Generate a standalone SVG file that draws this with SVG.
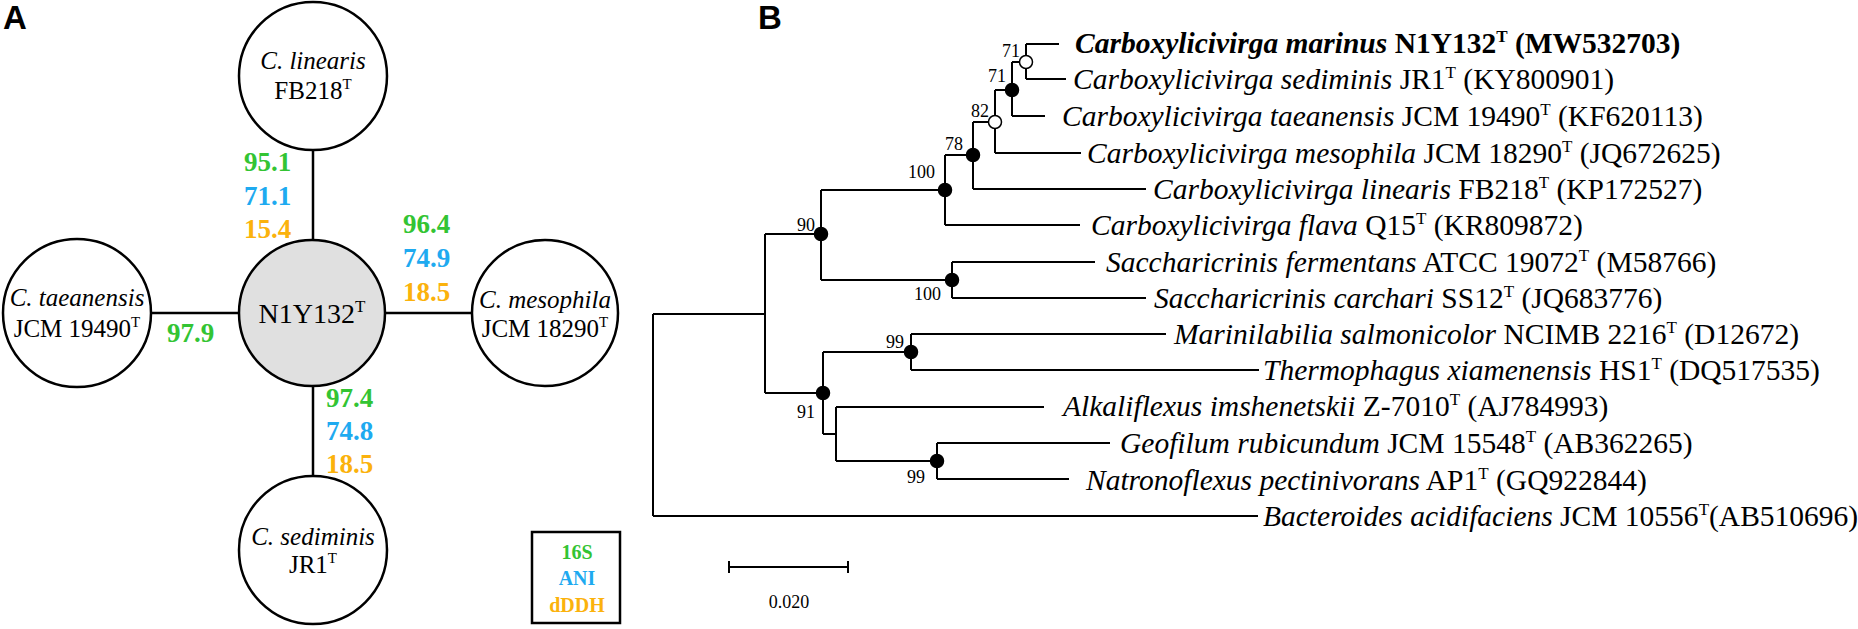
<svg xmlns="http://www.w3.org/2000/svg" width="1858" height="629" viewBox="0 0 1858 629">
<style>
.bg{fill:#fff}
.circ{fill:#fff;stroke:#000;stroke-width:2.5}
.ctr{fill:#e0e0e0;stroke:#000;stroke-width:2.5}
.edge{stroke:#000;stroke-width:2.5;fill:none}
.tl{stroke:#000;stroke-width:2;fill:none}
.panel{font-family:"Liberation Sans",Arial,sans-serif;font-weight:bold;font-size:33px;fill:#000}
.nt{font-family:"Liberation Serif","Times New Roman",serif;font-size:25px;fill:#000;text-anchor:middle}
.ct{font-family:"Liberation Serif","Times New Roman",serif;font-size:28px;fill:#000;text-anchor:middle}
.it{font-style:italic}
.val{font-family:"Liberation Serif","Times New Roman",serif;font-size:27px;font-weight:bold}
.g{fill:#33c433}
.b{fill:#1eaaf0}
.o{fill:#fbb20c}
.lg{font-family:"Liberation Serif","Times New Roman",serif;font-size:20px;font-weight:bold;text-anchor:middle}
.leaf{font-family:"Liberation Serif","Times New Roman",serif;font-size:29.5px;fill:#000}
.bs{font-family:"Liberation Serif","Times New Roman",serif;font-size:18px;fill:#000;text-anchor:end}
.sc{font-family:"Liberation Serif","Times New Roman",serif;font-size:18px;fill:#000;text-anchor:middle}
.fn{fill:#000;stroke:#000;stroke-width:1.5}
.on{fill:#fff;stroke:#000;stroke-width:1.5}
</style>
<rect class="bg" x="0" y="0" width="1858" height="629"/>

<text class="panel" x="3" y="29">A</text>
<text class="panel" x="758" y="29">B</text>

<g id="connectors-A">
<line class="edge" x1="313" y1="150" x2="313" y2="240"/>
<line class="edge" x1="313" y1="386" x2="313" y2="477"/>
<line class="edge" x1="151" y1="313" x2="239" y2="313"/>
<line class="edge" x1="385" y1="313" x2="471" y2="313"/>
</g>

<g id="node-linearis">
<circle class="circ" cx="313" cy="76" r="74"/>
<text class="nt it" x="313" y="69">C. linearis</text>
<text class="nt" x="313" y="99">FB218<tspan font-size="15" dy="-10">T</tspan></text>
</g>
<g id="node-center">
<circle class="ctr" cx="312" cy="313" r="73"/>
<text class="ct" x="312" y="323">N1Y132<tspan font-size="17" dy="-11">T</tspan></text>
</g>
<g id="node-taeanensis">
<circle class="circ" cx="77" cy="313" r="74"/>
<text class="nt it" x="77" y="306">C. taeanensis</text>
<text class="nt" x="77" y="337">JCM 19490<tspan font-size="15" dy="-10">T</tspan></text>
</g>
<g id="node-mesophila">
<circle class="circ" cx="545" cy="313" r="73"/>
<text class="nt it" x="545" y="308">C. mesophila</text>
<text class="nt" x="545" y="337">JCM 18290<tspan font-size="15" dy="-10">T</tspan></text>
</g>
<g id="node-sediminis">
<circle class="circ" cx="313" cy="550" r="74"/>
<text class="nt it" x="313" y="545">C. sediminis</text>
<text class="nt" x="313" y="573">JR1<tspan font-size="15" dy="-10">T</tspan></text>
</g>

<g id="values">
<text class="val g" x="244" y="171">95.1</text>
<text class="val b" x="244" y="205">71.1</text>
<text class="val o" x="244" y="238">15.4</text>
<text class="val g" x="403" y="233">96.4</text>
<text class="val b" x="403" y="267">74.9</text>
<text class="val o" x="403" y="301">18.5</text>
<text class="val g" x="167" y="342">97.9</text>
<text class="val g" x="326" y="407">97.4</text>
<text class="val b" x="326" y="440">74.8</text>
<text class="val o" x="326" y="473">18.5</text>
</g>

<g id="legend">
<rect x="532" y="532" width="88" height="91" fill="#fff" stroke="#000" stroke-width="2.5"/>
<text class="lg g" x="577" y="559">16S</text>
<text class="lg b" x="577" y="585">ANI</text>
<text class="lg o" x="577" y="612">dDDH</text>
</g>

<g id="tree-branches">
<path class="tl" d="M653,314 V516 M653,314 H765 M653,516 H1258
M765,234 V393 M765,234 H821 M765,393 H823
M821,190 V280 M821,190 H945 M821,280 H952
M945,155 V225 M945,155 H973 M945,225 H1080
M973,122 V189 M973,122 H995 M973,189 H1146
M995,90 V153 M995,90 H1012 M995,153 H1081
M1012,62 V116 M1012,62 H1026 M1012,116 H1045
M1026,44 V79 M1026,44 H1059 M1026,79 H1066
M952,262 V298 M952,262 H1095 M952,298 H1146
M823,352 V434 M823,352 H911 M823,434 H836
M911,334 V370 M911,334 H1166 M911,370 H1259
M836,407 V461 M836,407 H1044 M836,461 H937
M937,443 V479 M937,443 H1110 M937,479 H1069"/>
</g>
<g id="tree-nodes">
<circle class="fn" cx="821" cy="234" r="6.5"/>
<circle class="fn" cx="945" cy="190" r="6.5"/>
<circle class="fn" cx="973" cy="155" r="6.5"/>
<circle class="on" cx="995" cy="122" r="6.5"/>
<circle class="fn" cx="1012" cy="90" r="6.5"/>
<circle class="on" cx="1026" cy="62" r="6.5"/>
<circle class="fn" cx="952" cy="280" r="6.5"/>
<circle class="fn" cx="823" cy="393" r="6.5"/>
<circle class="fn" cx="911" cy="352" r="6.5"/>
<circle class="fn" cx="937" cy="461" r="6.5"/>
</g>
<g id="bootstrap">
<text class="bs" x="1020" y="57">71</text>
<text class="bs" x="1006" y="82">71</text>
<text class="bs" x="989" y="117">82</text>
<text class="bs" x="963" y="150">78</text>
<text class="bs" x="935" y="178">100</text>
<text class="bs" x="815" y="231">90</text>
<text class="bs" x="941" y="300">100</text>
<text class="bs" x="904" y="348">99</text>
<text class="bs" x="815" y="418">91</text>
<text class="bs" x="925" y="483">99</text>
</g>
<g id="leaves">
<text class="leaf" x="1075" y="53" font-weight="bold"><tspan class="it">Carboxylicivirga marinus</tspan> N1Y132<tspan font-size="17" dy="-11">T</tspan><tspan dy="11"> (MW532703)</tspan></text>
<text class="leaf" x="1073" y="89"><tspan class="it">Carboxylicivirga sediminis</tspan> JR1<tspan font-size="17" dy="-11">T</tspan><tspan dy="11"> (KY800901)</tspan></text>
<text class="leaf" x="1062" y="126"><tspan class="it">Carboxylicivirga taeanensis</tspan> JCM 19490<tspan font-size="17" dy="-11">T</tspan><tspan dy="11"> (KF620113)</tspan></text>
<text class="leaf" x="1087" y="163"><tspan class="it">Carboxylicivirga mesophila</tspan> JCM 18290<tspan font-size="17" dy="-11">T</tspan><tspan dy="11"> (JQ672625)</tspan></text>
<text class="leaf" x="1153" y="199"><tspan class="it">Carboxylicivirga linearis</tspan> FB218<tspan font-size="17" dy="-11">T</tspan><tspan dy="11"> (KP172527)</tspan></text>
<text class="leaf" x="1091" y="235"><tspan class="it">Carboxylicivirga flava</tspan> Q15<tspan font-size="17" dy="-11">T</tspan><tspan dy="11"> (KR809872)</tspan></text>
<text class="leaf" x="1106" y="272"><tspan class="it">Saccharicrinis fermentans</tspan> ATCC 19072<tspan font-size="17" dy="-11">T</tspan><tspan dy="11"> (M58766)</tspan></text>
<text class="leaf" x="1154" y="308"><tspan class="it">Saccharicrinis carchari</tspan> SS12<tspan font-size="17" dy="-11">T</tspan><tspan dy="11"> (JQ683776)</tspan></text>
<text class="leaf" x="1174" y="344"><tspan class="it">Marinilabilia salmonicolor</tspan> NCIMB 2216<tspan font-size="17" dy="-11">T</tspan><tspan dy="11"> (D12672)</tspan></text>
<text class="leaf" x="1263" y="380"><tspan class="it">Thermophagus xiamenensis</tspan> HS1<tspan font-size="17" dy="-11">T</tspan><tspan dy="11"> (DQ517535)</tspan></text>
<text class="leaf" x="1063" y="416"><tspan class="it">Alkaliflexus imshenetskii</tspan> Z-7010<tspan font-size="17" dy="-11">T</tspan><tspan dy="11"> (AJ784993)</tspan></text>
<text class="leaf" x="1120" y="453"><tspan class="it">Geofilum rubicundum</tspan> JCM 15548<tspan font-size="17" dy="-11">T</tspan><tspan dy="11"> (AB362265)</tspan></text>
<text class="leaf" x="1086" y="490"><tspan class="it">Natronoflexus pectinivorans</tspan> AP1<tspan font-size="17" dy="-11">T</tspan><tspan dy="11"> (GQ922844)</tspan></text>
<text class="leaf" x="1263" y="526"><tspan class="it">Bacteroides acidifaciens</tspan> JCM 10556<tspan font-size="17" dy="-11">T</tspan><tspan dy="11">(AB510696)</tspan></text>
</g>
<g id="scalebar">
<path class="tl" d="M729,567 H848 M729,561 V573 M848,561 V573"/>
<text class="sc" x="789" y="608">0.020</text>
</g>
</svg>
